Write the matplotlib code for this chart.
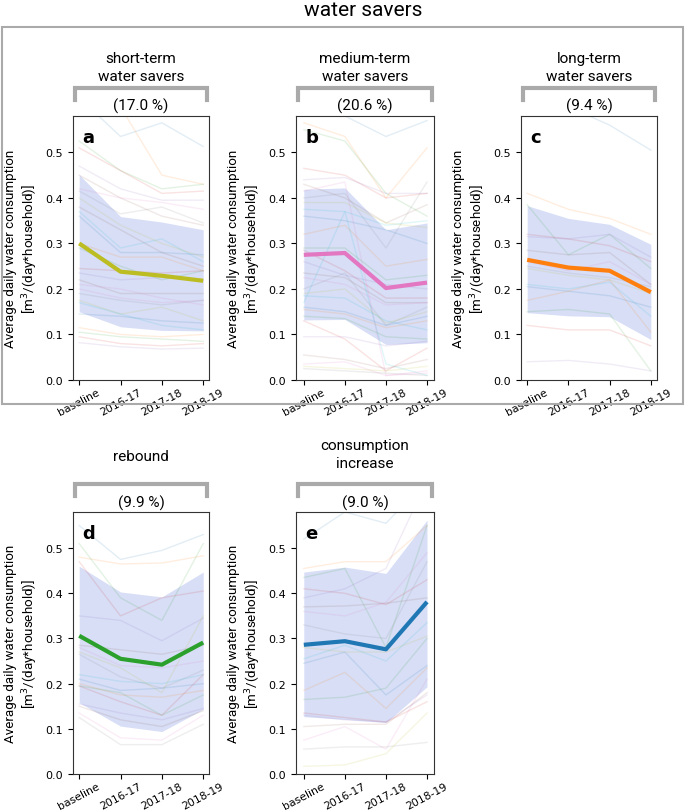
import matplotlib
matplotlib.use("Agg")
import matplotlib.pyplot as plt
from matplotlib.lines import Line2D
from matplotlib.patches import Rectangle
from matplotlib import font_manager

names = {f.name for f in font_manager.fontManager.ttflist}
LABEL_FONT = "Liberation Sans Narrow" if "Liberation Sans Narrow" in names else "Roboto"

periods = ["baseline", "2016-17", "2017-18", "2018-19"]

titles = ["short-term\nwater savers", "medium-term\nwater savers", "long-term\nwater savers",
          "rebound", "consumption\nincrease"]
shares = ["(17.0 %)", "(20.6 %)", "(9.4 %)", "(9.9 %)", "(9.0 %)"]
letters = ["a", "b", "c", "d", "e"]
mean_colors = ["#bcbd22", "#e377c2", "#ff7f0e", "#2ca02c", "#1f77b4"]

mean_a = [0.300, 0.238, 0.229, 0.218]
upper_a = [0.451, 0.359, 0.347, 0.330]
lower_a = [0.150, 0.117, 0.109, 0.108]
mean_b = [0.275, 0.279, 0.202, 0.214]
upper_b = [0.419, 0.422, 0.330, 0.345]
lower_b = [0.132, 0.133, 0.078, 0.082]
mean_c = [0.264, 0.247, 0.240, 0.193]
upper_c = [0.383, 0.355, 0.342, 0.298]
lower_c = [0.148, 0.141, 0.139, 0.089]
mean_d = [0.306, 0.255, 0.242, 0.291]
upper_d = [0.460, 0.403, 0.392, 0.447]
lower_d = [0.158, 0.106, 0.094, 0.143]
mean_e = [0.286, 0.294, 0.276, 0.381]
upper_e = [0.447, 0.458, 0.444, 0.562]
lower_e = [0.127, 0.121, 0.114, 0.193]

hh_a = [
    [0.62, 0.535, 0.565, 0.513], [0.66, 0.60, 0.45, 0.43], [0.525, 0.46, 0.42, 0.43],
    [0.51, 0.46, 0.41, 0.415], [0.47, 0.42, 0.395, 0.395], [0.45, 0.40, 0.36, 0.34],
    [0.42, 0.40, 0.39, 0.375], [0.415, 0.365, 0.38, 0.345], [0.40, 0.34, 0.30, 0.27],
    [0.37, 0.29, 0.31, 0.26], [0.36, 0.28, 0.28, 0.275], [0.30, 0.27, 0.27, 0.24],
    [0.29, 0.25, 0.22, 0.24], [0.245, 0.24, 0.235, 0.24], [0.235, 0.22, 0.225, 0.22],
    [0.22, 0.19, 0.19, 0.19], [0.20, 0.18, 0.17, 0.175], [0.19, 0.175, 0.165, 0.175],
    [0.175, 0.145, 0.16, 0.13], [0.17, 0.145, 0.12, 0.11], [0.145, 0.14, 0.13, 0.125],
    [0.115, 0.10, 0.095, 0.10], [0.105, 0.095, 0.09, 0.085], [0.095, 0.08, 0.075, 0.08],
    [0.082, 0.073, 0.068, 0.07], [0.38, 0.33, 0.28, 0.25], [0.21, 0.20, 0.18, 0.165],
]
hh_b = [
    [0.60, 0.58, 0.535, 0.57], [0.565, 0.535, 0.40, 0.51], [0.55, 0.525, 0.41, 0.36],
    [0.465, 0.45, 0.40, 0.41], [0.44, 0.445, 0.41, 0.41], [0.43, 0.40, 0.345, 0.385],
    [0.415, 0.435, 0.01, 0.02], [0.40, 0.41, 0.29, 0.435], [0.39, 0.39, 0.345, 0.335],
    [0.375, 0.37, 0.34, 0.35], [0.36, 0.35, 0.33, 0.30], [0.32, 0.34, 0.25, 0.265],
    [0.29, 0.29, 0.22, 0.23], [0.285, 0.24, 0.18, 0.18], [0.26, 0.23, 0.21, 0.20],
    [0.235, 0.225, 0.17, 0.17], [0.225, 0.21, 0.165, 0.17], [0.20, 0.235, 0.12, 0.16],
    [0.19, 0.20, 0.125, 0.15], [0.185, 0.18, 0.13, 0.11], [0.16, 0.15, 0.12, 0.14],
    [0.155, 0.145, 0.115, 0.13], [0.14, 0.135, 0.095, 0.09], [0.13, 0.09, 0.02, 0.07],
    [0.095, 0.095, 0.075, 0.085], [0.055, 0.045, 0.025, 0.045], [0.035, 0.04, 0.01, 0.015],
    [0.025, 0.02, 0.015, 0.01], [0.03, 0.025, 0.02, 0.03], [0.17, 0.37, 0.035, 0.01],
]
hh_c = [
    [0.65, 0.60, 0.56, 0.505], [0.41, 0.375, 0.355, 0.32], [0.385, 0.275, 0.32, 0.245],
    [0.32, 0.31, 0.295, 0.26], [0.315, 0.31, 0.32, 0.27], [0.285, 0.275, 0.28, 0.21],
    [0.26, 0.24, 0.26, 0.21], [0.25, 0.235, 0.225, 0.205], [0.245, 0.23, 0.22, 0.19],
    [0.21, 0.20, 0.215, 0.14], [0.205, 0.195, 0.185, 0.16], [0.175, 0.195, 0.22, 0.105],
    [0.15, 0.155, 0.145, 0.02], [0.12, 0.11, 0.11, 0.075], [0.04, 0.043, 0.035, 0.02],
]
hh_d = [
    [0.55, 0.475, 0.495, 0.53], [0.48, 0.465, 0.467, 0.483], [0.51, 0.39, 0.34, 0.51],
    [0.47, 0.35, 0.39, 0.405], [0.35, 0.34, 0.295, 0.345], [0.285, 0.275, 0.265, 0.285],
    [0.28, 0.24, 0.235, 0.25], [0.265, 0.215, 0.19, 0.23], [0.27, 0.235, 0.18, 0.35],
    [0.22, 0.205, 0.20, 0.22], [0.21, 0.185, 0.19, 0.20], [0.20, 0.175, 0.17, 0.185],
    [0.195, 0.18, 0.13, 0.175], [0.195, 0.16, 0.13, 0.22], [0.155, 0.135, 0.12, 0.145],
    [0.15, 0.12, 0.105, 0.14], [0.135, 0.08, 0.075, 0.13], [0.125, 0.065, 0.065, 0.11],
]
hh_e = [
    [0.52, 0.58, 0.555, 0.65], [0.455, 0.47, 0.47, 0.55], [0.435, 0.455, 0.28, 0.55],
    [0.41, 0.40, 0.375, 0.43], [0.39, 0.41, 0.455, 0.65], [0.37, 0.372, 0.378, 0.39],
    [0.36, 0.35, 0.38, 0.49], [0.33, 0.31, 0.30, 0.47], [0.28, 0.27, 0.27, 0.305],
    [0.255, 0.285, 0.25, 0.335], [0.245, 0.27, 0.175, 0.24], [0.185, 0.225, 0.145, 0.235],
    [0.165, 0.17, 0.19, 0.30], [0.135, 0.125, 0.115, 0.16], [0.13, 0.12, 0.115, 0.175],
    [0.105, 0.11, 0.11, 0.18], [0.075, 0.105, 0.055, 0.21], [0.055, 0.06, 0.06, 0.07],
    [0.017, 0.02, 0.045, 0.135],
]

panels = [
    (hh_a, mean_a, upper_a, lower_a),
    (hh_b, mean_b, upper_b, lower_b),
    (hh_c, mean_c, upper_c, lower_c),
    (hh_d, mean_d, upper_d, lower_d),
    (hh_e, mean_e, upper_e, lower_e),
]

W, H = 685, 812
fig = plt.figure(figsize=(W / 100, H / 100), dpi=100)

def fx(x):
    return x / W

def fy(y):
    return 1 - y / H

# axes boxes in pixels: left, top, right, bottom
boxes = [(73, 117, 209, 381), (296, 117, 434, 381), (521, 117, 657, 381),
         (73, 513, 209, 775), (296, 513, 434, 775)]
xlims = [(-0.15, 3.14), (-0.19, 3.17), (-0.15, 3.15), (-0.15, 3.14), (-0.19, 3.17)]

tab = plt.rcParams["axes.prop_cycle"].by_key()["color"]
xs = list(range(len(periods)))

for i, (hh, mean, up, lo) in enumerate(panels):
    l, t, r, b = boxes[i]
    ax = fig.add_axes([fx(l), fy(b), (r - l) / W, (b - t) / H])
    for j, row in enumerate(hh):
        ax.plot(xs, row, color=tab[j % 10], alpha=0.13, lw=1.0)
    ax.fill_between(xs, lo, up, color="#3b5bd6", alpha=0.2, lw=0)
    ax.plot(xs, mean, color=mean_colors[i], lw=3.0, solid_capstyle="butt")
    ax.set_ylim(0, 0.58)
    ax.set_xlim(*xlims[i])
    ax.set_xticks(xs)
    ax.set_xticklabels(periods, rotation=28, fontsize=7.8)
    ax.tick_params(axis="x", pad=1)
    ax.set_yticks([0, 0.1, 0.2, 0.3, 0.4, 0.5])
    ax.set_yticklabels(["0.0", "0.1", "0.2", "0.3", "0.4", "0.5"], fontsize=8)
    ax.set_ylabel("Average daily water consumption\n[m$^3$/(day*household)]",
                  fontsize=9.6, family=LABEL_FONT, labelpad=4, linespacing=1.25)
    for s in ax.spines.values():
        s.set_color("#333333")
    ax.text(0.07, 0.955, letters[i], transform=ax.transAxes, fontsize=13,
            fontweight="bold", va="top", ha="left")

    # titles and brackets
    cx = (l + r) / 2
    if i < 3:
        ttl_y, br_top, br_bot, sh_y = 68, 89, 101, 106
    else:
        ttl_y, br_top, br_bot, sh_y = (457 if i == 3 else 455), 485, 497, 503
    fig.text(fx(cx), fy(ttl_y), titles[i], ha="center", va="center",
             fontsize=11, family=LABEL_FONT, linespacing=1.3)
    fig.add_artist(Line2D([fx(l + 2), fx(l + 2), fx(r - 2), fx(r - 2)],
                          [fy(br_bot), fy(br_top), fy(br_top), fy(br_bot)],
                          color="#aaaaaa", lw=3, solid_joinstyle="miter"))
    fig.text(fx(cx), fy(sh_y), shares[i], ha="center", va="center",
             fontsize=11, family=LABEL_FONT)

fig.text(fx(363), fy(10), "water savers", ha="center", va="center",
         fontsize=15, family=LABEL_FONT)
fig.add_artist(Rectangle((fx(2), fy(405)), fx(681), (405 - 28) / H,
                         fill=False, edgecolor="#aaaaaa", lw=1.5))

fig.savefig("out.png", dpi=100)
